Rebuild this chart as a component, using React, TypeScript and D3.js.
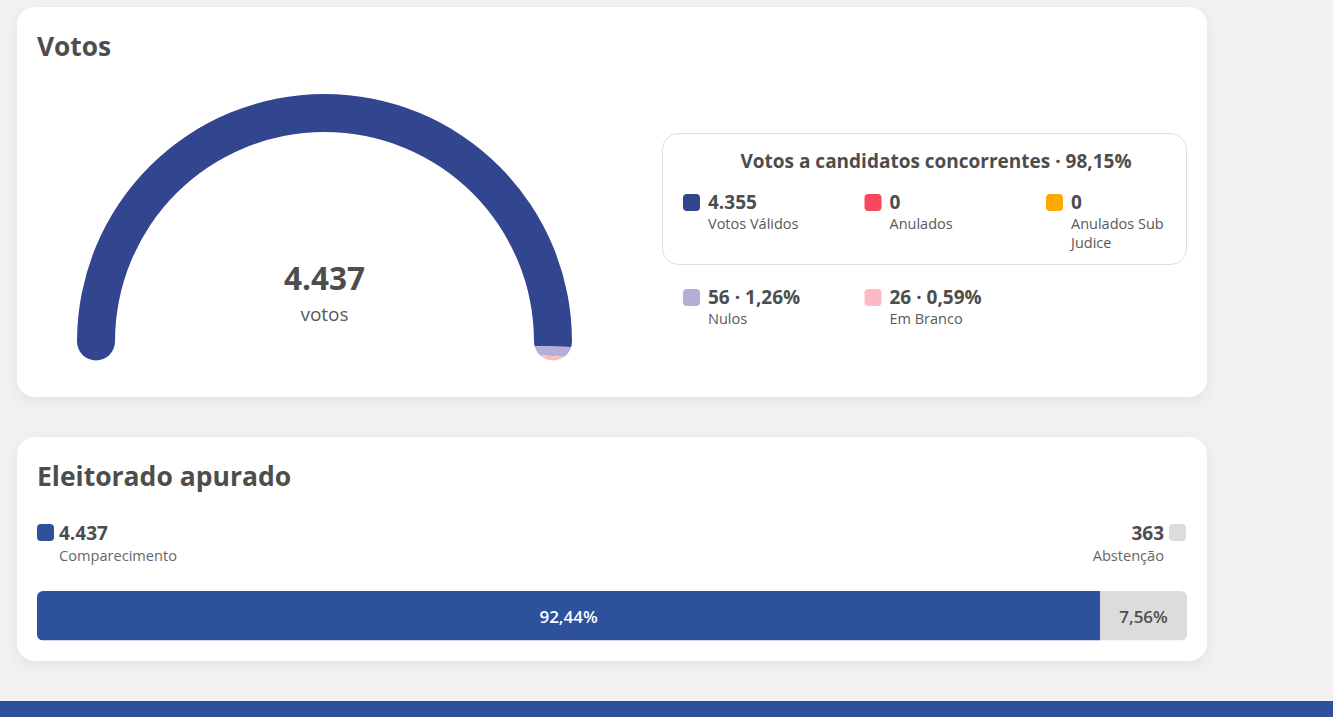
import React from "react";
import * as d3 from "d3";

const W = 1333;
const H = 717;

// Gauge data
const gaugeLabels = ["Votos Válidos", "Nulos", "Em Branco"];
const gaugeValues = [4355, 56, 26];
const gaugeColors = ["#324690", "#B3AFD6", "#FFB9C3"];

// Legend inside box (votos a candidatos concorrentes)
const concLabels = ["Votos Válidos", "Anulados", "Anulados Sub|Judice"];
const concValues = [4355, 0, 0];
const concColors = ["#324690", "#F6475F", "#FFA800"];

// Legend outside box
const otherLabels = ["Nulos", "Em Branco"];
const otherValues = [56, 26];
const otherColors = ["#B3AFD6", "#FFB9C3"];

// Eleitorado apurado
const eleitLabels = ["Comparecimento", "Abstenção"];
const eleitValues = [4437, 363];
const eleitColors = ["#2E519B", "#DCDCDC"];

const locale = d3.formatLocale({
  decimal: ",",
  thousands: ".",
  grouping: [3],
  currency: ["R$", ""],
});
const fmtInt = locale.format(",d");
const fmtPct = (v: number) => locale.format(".2f")(v * 100) + "%";

const FONT = "'Open Sans', 'Noto Sans', sans-serif";
const DARK = "#4D4D4D";
const MID = "#595959";

function Card({ x, y, w, h }: { x: number; y: number; w: number; h: number }) {
  return <rect x={x} y={y} width={w} height={h} rx={18} fill="#fff" filter="url(#shadow)" />;
}

export default function App() {
  const total = d3.sum(gaugeValues);
  const cx = 324.5;
  const cy = 341.5;
  const r = 228.5;
  const sw = 38;
  const capA = sw / 2 / r;
  const angle = d3
    .scaleLinear()
    .domain([0, total])
    .range([-Math.PI / 2 - capA, Math.PI / 2 + capA]);
  const cum = d3.cumsum(gaugeValues);
  const band = d3.arc<any>().innerRadius(r - sw / 2 - 12).outerRadius(r + sw / 2 + 12);
  const track = d3
    .arc<any>()
    .innerRadius(r - sw / 2)
    .outerRadius(r + sw / 2)
    .startAngle(-Math.PI / 2)
    .endAngle(Math.PI / 2);

  const concTotal = d3.sum(concValues);
  const colX = [683, 864.5, 1046];

  const eTotal = d3.sum(eleitValues);
  const bx = d3.scaleLinear().domain([0, eTotal]).range([37, 1187]);
  const eCum = [0, ...d3.cumsum(eleitValues)];

  return (
    <div style={{ position: "absolute", left: 0, top: 0, width: W, height: H }}>
      <svg width={W} height={H} style={{ display: "block", fontFamily: FONT }}>
        <defs>
          <filter id="shadow" x="-5%" y="-10%" width="110%" height="130%">
            <feDropShadow dx="0" dy="4" stdDeviation="7" floodColor="#000" floodOpacity="0.07" />
          </filter>
          <clipPath id="gaugeClip">
            <path d={track({}) as string} transform={`translate(${cx},${cy})`} />
            <circle cx={cx - r} cy={cy} r={sw / 2} />
            <circle cx={cx + r} cy={cy} r={sw / 2} />
          </clipPath>
          <clipPath id="barClip">
            <rect x={37} y={591} width={1150} height={49.5} rx={6} />
          </clipPath>
        </defs>
        <rect x={0} y={0} width={W} height={H} fill="#F2F2F2" />

        {/* Card 1 */}
        <Card x={17} y={7} w={1190} h={390} />
        <text x={37} y={56} fontSize={26.3} fontWeight={700} fill={DARK}>
          Votos
        </text>

        <g clipPath="url(#gaugeClip)">
          {gaugeValues.map((v, i) => {
            const s = angle(i === 0 ? 0 : cum[i - 1]) - (i === 0 ? 0.06 : 0);
            const e = angle(cum[i]) + (i === gaugeValues.length - 1 ? 0.06 : 0);
            return (
              <path
                key={gaugeLabels[i]}
                d={band({ startAngle: s, endAngle: e }) as string}
                transform={`translate(${cx},${cy})`}
                fill={gaugeColors[i]}
              />
            );
          })}
        </g>
        <text x={cx} y={290} textAnchor="middle" fontSize={31.5} fontWeight={700} fill={DARK}>
          {fmtInt(total)}
        </text>
        <text x={cx} y={321} textAnchor="middle" fontSize={19} fill={MID}>
          votos
        </text>

        {/* Legend box */}
        <rect x={662.5} y={133.5} width={524} height={131} rx={16} fill="none" stroke="#DDDDDD" />
        <text x={936} y={168} textAnchor="middle" fontSize={19} fontWeight={700} fill={DARK}>
          {`Votos a candidatos concorrentes · ${fmtPct(concTotal / total)}`}
        </text>
        {concLabels.map((lab, i) => {
          const lines = lab.split("|");
          return (
            <g key={lab}>
              <rect x={colX[i]} y={194} width={17} height={17} rx={4} fill={concColors[i]} />
              <text x={colX[i] + 25} y={209} fontSize={19} fontWeight={700} fill={DARK}>
                {fmtInt(concValues[i])}
              </text>
              {lines.map((ln, j) => (
                <text key={j} x={colX[i] + 25} y={229 + j * 19} fontSize={14.5} fill={MID}>
                  {ln}
                </text>
              ))}
            </g>
          );
        })}
        {otherLabels.map((lab, i) => (
          <g key={lab}>
            <rect x={colX[i]} y={289} width={17} height={17} rx={4} fill={otherColors[i]} />
            <text x={colX[i] + 25} y={304} fontSize={19} fontWeight={700} fill={DARK}>
              {`${fmtInt(otherValues[i])} · ${fmtPct(otherValues[i] / total)}`}
            </text>
            <text x={colX[i] + 25} y={324} fontSize={14.5} fill={MID}>
              {lab}
            </text>
          </g>
        ))}

        {/* Card 2 */}
        <Card x={17} y={437} w={1190} h={224} />
        <text x={37} y={486} fontSize={26.5} fontWeight={700} fill={DARK}>
          Eleitorado apurado
        </text>
        <rect x={37} y={524} width={17} height={17} rx={4} fill={eleitColors[0]} />
        <text x={59} y={540} fontSize={19} fontWeight={700} fill={DARK}>
          {fmtInt(eleitValues[0])}
        </text>
        <text x={59} y={561} fontSize={14.6} fill="#666">
          {eleitLabels[0]}
        </text>
        <rect x={1169} y={524} width={17} height={17} rx={4} fill={eleitColors[1]} />
        <text x={1164} y={540} textAnchor="end" fontSize={19} fontWeight={700} fill={DARK}>
          {fmtInt(eleitValues[1])}
        </text>
        <text x={1164} y={561} textAnchor="end" fontSize={14.6} fill="#666">
          {eleitLabels[1]}
        </text>

        <g clipPath="url(#barClip)">
          {eleitValues.map((v, i) => (
            <rect
              key={eleitLabels[i]}
              x={bx(eCum[i])}
              y={591}
              width={bx(eCum[i + 1]) - bx(eCum[i])}
              height={49.5}
              fill={eleitColors[i]}
            />
          ))}
        </g>
        {eleitValues.map((v, i) => (
          <text
            key={"l" + i}
            x={(bx(eCum[i]) + bx(eCum[i + 1])) / 2}
            y={623}
            textAnchor="middle"
            fontSize={17}
            fontWeight={600}
            fill={i === 0 ? "#fff" : DARK}
          >
            {fmtPct(v / eTotal)}
          </text>
        ))}

        {/* Footer band */}
        <rect x={0} y={701} width={W} height={16} fill="#2E519B" />
      </svg>
    </div>
  );
}
